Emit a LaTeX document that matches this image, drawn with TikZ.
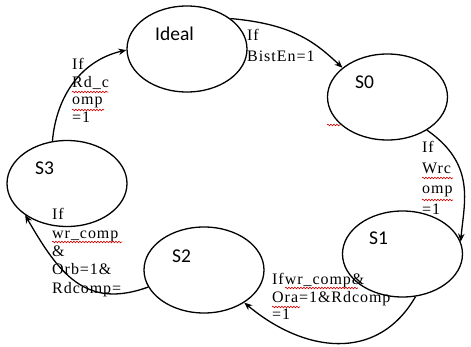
\documentclass[tikz,border=0pt]{standalone}
\usepackage{fontspec}
\setmainfont{Liberation Serif}
\newfontfamily\statefont{Carlito}
\newfontfamily\condfont[LetterSpace=6]{Liberation Serif}
\usetikzlibrary{arrows.meta,shapes.geometric,decorations.pathmorphing}
\newcommand{\condtext}[2]{\condfont\fontsize{16}{#1}\selectfont\begin{tabular}[t]{@{}l@{}}#2\end{tabular}}
\tikzset{
  stnode/.style={draw, ellipse, line width=1.3pt, minimum width=120pt, minimum height=86pt, inner sep=0pt},
  stname/.style={anchor=base west, inner sep=0pt, font=\statefont\fontsize{19.5}{21}\selectfont},
  cond/.style={anchor=base west, inner sep=0pt},
  trans/.style={line width=1.3pt, -{Stealth[length=8pt,width=6.5pt]}},
  spell/.style={red!85!black, line width=0.6pt, decorate, decoration={snake, segment length=3pt, amplitude=0.8pt}},
}
\begin{document}
\begin{tikzpicture}[x=1pt,y=1pt]
\useasboundingbox (0,0) rectangle (471,-347);
% states
\node[stnode] (Ideal) at (187,-49) {};
\node[stnode] (S0) at (387.5,-97) {};
\node[stnode] (S1) at (402.5,-254) {};
\node[stnode] (S2) at (204,-270) {};
\node[stnode] (S3) at (67,-183.5) {};
\node[stname] (Ideal-t) at (155,-41) {Ideal};
\node[stname] (S0-t) at (355,-89) {S0};
\node[stname] (S1-t) at (369,-245) {S1};
\node[stname] (S2-t) at (172,-262) {S2};
\node[stname] (S3-t) at (35,-175) {S3};
% transitions
\draw[trans] (Ideal.35) to[out=-5, in=137, out distance=63pt, in distance=37pt] (S0.147);
\draw[trans] (S0.-40) to[out=-35, in=85, out distance=60pt, in distance=40pt] (S1.12);
\draw[trans] (S1.-73) to[out=-120, in=-40, looseness=1.15] (S2.-39);
\draw[trans] (S2.197) to[out=200, in=-60, looseness=1.2] (S3.217);
\draw[trans] (S3.109) to[out=85, in=193] (Ideal.181);
% conditions
\node[cond] (c1) at (247,-41) {\condtext{21pt}{If\\BistEn=1}};
\node[cond] (c2) at (422,-153) {\condtext{20.5pt}{If\\Wrc\\omp\\=1}};
\node[cond] (c3) at (272,-285) {\condtext{17.5pt}{Ifwr\_comp\&\\Ora=1\&Rdcomp\\=1}};
\node[cond] (c4) at (52,-220) {\condtext{18.3pt}{If\\wr\_comp\\\&\\Orb=1\&\\Rdcomp=}};
\node[cond] (c5) at (72,-70) {\condtext{17.5pt}{If\\Rd\_c\\omp\\=1}};
% spelling marks
\draw[spell] (72,-92) -- (108,-92);
\draw[spell] (72,-110) -- (104,-110);
\draw[spell] (422,-178) -- (453,-178);
\draw[spell] (422,-200) -- (453,-200);
\draw[spell] (52,-242) -- (122,-242);
\draw[spell] (285,-288) -- (358,-288);
\draw[spell] (272,-307) -- (300,-307);
\draw[spell] (327,-125) -- (340,-125);
\end{tikzpicture}
\end{document}
